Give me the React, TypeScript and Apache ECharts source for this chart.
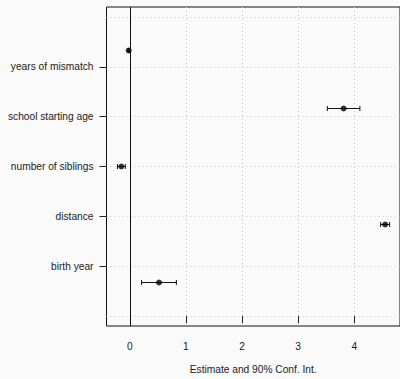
import React, { useEffect, useRef } from "react";
import * as echarts from "echarts";

// bottom to top
const categories = ["birth year", "distance", "number of siblings", "school starting age", "years of mismatch"];
const estimates = [0.52, 4.55, -0.15, 3.81, -0.02];
const lower = [0.21, 4.47, -0.22, 3.52, -0.03];
const upper = [0.83, 4.63, -0.08, 4.1, -0.01];
const xTicks = [0, 1, 2, 3, 4];
const labelPositions = [1, 2, 3, 4, 5];
const gridPositions = [0, 1, 2, 3, 4, 5, 6];
const xTitle = "Estimate and 90% Conf. Int.";

export default function App() {
  const ref = useRef<HTMLDivElement>(null);
  useEffect(() => {
    if (!ref.current) return;
    const chart = echarts.init(ref.current, null, { renderer: "svg" });
    const font = "'Liberation Sans', Arial, sans-serif";
    const pointData = estimates.map((v, i) => [v, i + 1]);
    const barData = estimates.map((_, i) => [lower[i], upper[i], i + 1]);
    chart.setOption({
      animation: false,
      backgroundColor: "#fafafa",
      textStyle: { fontFamily: font },
      grid: {
        left: 106.5,
        right: 0,
        top: 7,
        bottom: 49,
        show: true,
        borderColor: "#111",
        borderWidth: 1,
        backgroundColor: "transparent",
      },
      xAxis: {
        type: "value",
        min: -0.415,
        max: 4.815,
        axisLine: { show: false },
        axisTick: { show: true, length: 7, customValues: xTicks, lineStyle: { color: "#222" } },
        axisLabel: { customValues: xTicks, margin: 15, fontSize: 10.2, color: "#222", fontFamily: font },
        splitLine: { show: true, lineStyle: { type: [1, 3], color: "#c8c8c8", width: 1 } },
        name: xTitle,
        nameLocation: "middle",
        nameGap: 38,
        nameTextStyle: { fontSize: 10.2, color: "#222", fontFamily: font },
      },
      yAxis: [
        {
          type: "value",
          min: -0.2,
          max: 6.2,
          position: "left",
          axisLine: { show: false },
          axisTick: { show: false, customValues: gridPositions },
          axisLabel: { show: false },
          splitLine: { show: true, lineStyle: { type: [1, 3], color: "#c8c8c8", width: 1 } },
        },
        {
          type: "value",
          min: -0.2,
          max: 6.2,
          position: "left",
          axisLine: { show: false },
          axisTick: { show: true, length: 7, customValues: labelPositions, lineStyle: { color: "#222" } },
          axisLabel: {
            customValues: labelPositions,
            margin: 13,
            fontSize: 10.2,
            color: "#222",
            fontFamily: font,
            formatter: (v: number) => categories[Math.round(v) - 1] ?? "",
          },
          splitLine: { show: false },
        },
        {
          type: "value",
          min: 0.25,
          max: 5.75,
          show: false,
          splitLine: { show: false },
        },
      ],
      series: [
        {
          type: "custom",
          xAxisIndex: 0,
          yAxisIndex: 2,
          data: barData,
          silent: true,
          renderItem: (params: any, api: any) => {
            const p1 = api.coord([api.value(0), api.value(2)]);
            const p2 = api.coord([api.value(1), api.value(2)]);
            const h = 2.5;
            const style = { stroke: "#111", lineWidth: 1 };
            return {
              type: "group",
              children: [
                { type: "line", shape: { x1: p1[0], y1: p1[1], x2: p2[0], y2: p2[1] }, style },
                { type: "line", shape: { x1: p1[0], y1: p1[1] - h, x2: p1[0], y2: p1[1] + h }, style },
                { type: "line", shape: { x1: p2[0], y1: p2[1] - h, x2: p2[0], y2: p2[1] + h }, style },
              ],
            };
          },
        },
        {
          type: "scatter",
          xAxisIndex: 0,
          yAxisIndex: 2,
          data: pointData,
          symbol: "circle",
          symbolSize: 6,
          itemStyle: { color: "#000" },
          silent: true,
          markLine: {
            silent: true,
            symbol: "none",
            label: { show: false },
            lineStyle: { color: "#111", type: "solid", width: 1 },
            data: [{ xAxis: 0 }],
          },
        },
      ],
    });
    return () => chart.dispose();
  }, []);
  return (
    <div
      ref={ref}
      style={{ position: "fixed", left: 0, top: 0, width: 400, height: 379, background: "#fafafa" }}
    />
  );
}
